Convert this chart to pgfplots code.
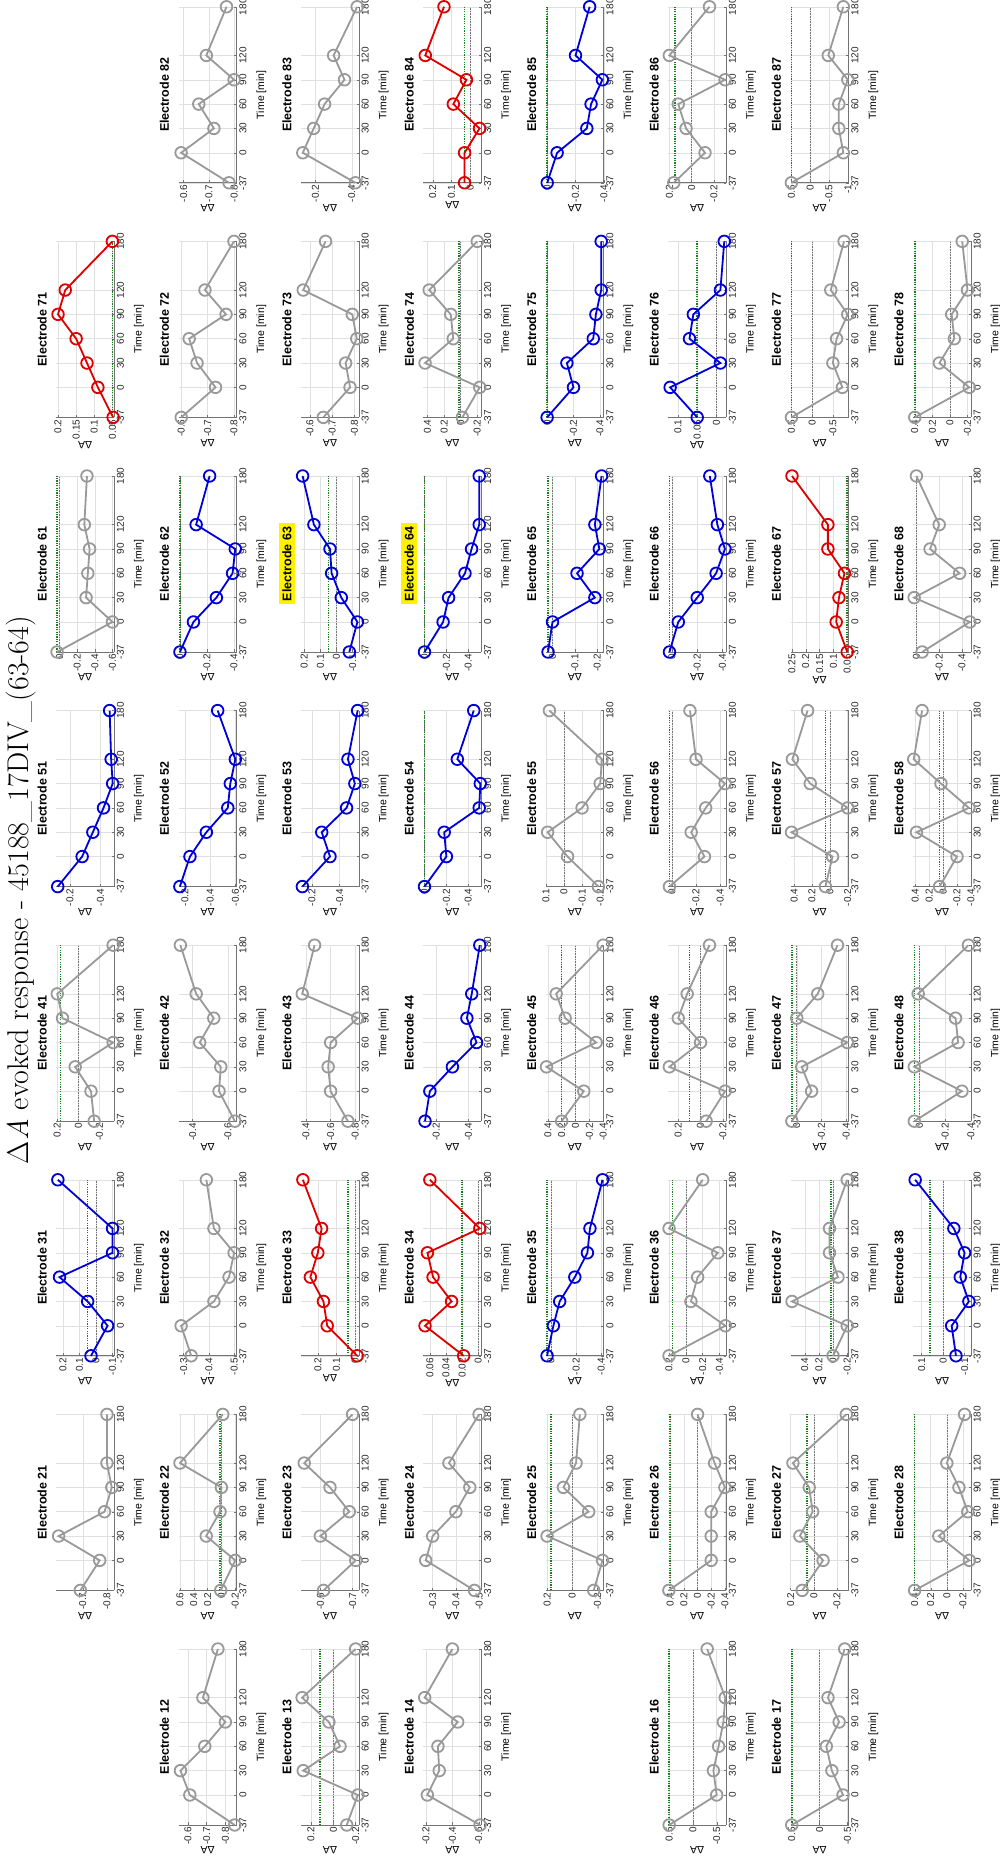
\documentclass[border=0pt]{standalone}
\usepackage{graphicx}
\usepackage{fontspec}
\setsansfont{Liberation Sans}
\usepackage{pgfplots}
\pgfplotsset{compat=1.18}

\definecolor{sgray}{rgb}{0.6,0.6,0.6}
\definecolor{sblue}{rgb}{0,0,0.85}
\definecolor{sred}{rgb}{0.87,0,0}
\definecolor{basegreen}{rgb}{0.1,0.5,0.1}
\definecolor{axisgray}{rgb}{0.45,0.45,0.45}
\definecolor{gridgray}{rgb}{0.88,0.88,0.88}

\pgfplotsset{
  panel/.style={
    scale only axis, width=176pt, height=58pt,
    xmin=-37, xmax=180, xtick={-37,0,30,60,90,120,180},
    axis x line*=bottom, axis y line*=left,
    axis line style={draw=axisgray, line width=0.7pt},
    every tick/.style={draw=axisgray},
    major tick length=2.5pt,
    grid=major, major grid style={draw=gridgray, line width=0.5pt},
    clip=false,
    /pgf/number format/assume math mode=true,
    /pgf/number format/fixed,
    scaled y ticks=false,
    tick label style={font=\sffamily\fontsize{10}{10}\selectfont, text=black!85},
    xticklabel style={inner sep=2.5pt},
    yticklabel style={inner sep=2pt},
    xlabel={Time [min]}, ylabel={ΔA},
    xlabel style={font=\sffamily\fontsize{10.5}{10.5}\selectfont, yshift=-4pt},
    ylabel style={font=\sffamily\fontsize{10.5}{10.5}\selectfont, yshift=-3pt},
    title style={font=\sffamily\bfseries\fontsize{12.5}{13}\selectfont},
  },
  cell/.style 2 args={at={({40pt+234.6pt*(#1-1)},{-114.2pt-122.4pt*(#2-1)})}, anchor=south west},
  ser/.style={draw=#1, line width=1.8pt, mark=o, mark size=5.8pt, mark options={line width=1.8pt, fill=none}},
  zeroline/.style={draw=black!55, line width=0.6pt, densely dotted},
  baseline/.style={draw=basegreen, line width=1.6pt, dash pattern=on 1.2pt off 1.2pt},
}

% tens digit, unit digit, colour, axis options, reference lines, data
\newcommand{\panel}[6]{%
  \begin{axis}[panel, cell={#1}{#2}, title={Electrode #1#2}, #4]
    #5
    \addplot[ser=#3] coordinates {#6};
  \end{axis}}
\newcommand{\zero}{\addplot[zeroline] coordinates {(-37,0) (180,0)};}
\newcommand{\base}[1]{\addplot[baseline] coordinates {(-37,#1) (180,#1)};}

\begin{document}
\rotatebox{90}{%
\begin{tikzpicture}
\path[use as bounding box] (0,0) rectangle (1865pt,-999pt);
\node[font=\fontsize{30}{30}\selectfont, inner sep=0pt] at (975pt,-21pt) {Δ\textit{A} evoked response - 45188\_17DIV\_(63-64)};

% ---------- row 8 ----------
\panel{8}{2}{sgray}{ymin=-0.81,ymax=-0.58,ytick={-0.8,-0.7,-0.6}}{}{(-37,-0.78) (0,-0.59) (30,-0.72) (60,-0.66) (90,-0.80) (120,-0.69) (180,-0.77)}
\panel{8}{3}{sgray}{ymin=-0.44,ymax=-0.12,ytick={-0.4,-0.2}}{}{(-37,-0.42) (0,-0.13) (30,-0.19) (60,-0.25) (90,-0.36) (120,-0.30) (180,-0.43)}
\panel{8}{4}{sred}{ymin=-0.06,ymax=0.25,ytick={0,0.1,0.2}}{\zero\base{0.03}}{(-37,0.03) (0,0.03) (30,-0.05) (60,0.09) (90,0.02) (120,0.24) (180,0.14)}
\panel{8}{5}{sblue}{ymin=-0.40,ymax=0.01,ytick={-0.4,-0.2,0}}{\zero\base{0}}{(-37,0) (0,-0.07) (30,-0.28) (60,-0.31) (90,-0.39) (120,-0.2) (180,-0.3)}
\panel{8}{6}{sgray}{ymin=-0.31,ymax=0.21,ytick={-0.2,0,0.2}}{\zero\base{0.15}}{(-37,0.16) (0,-0.12) (30,0.05) (60,0.12) (90,-0.3) (120,0.2) (180,-0.16)}
\panel{8}{7}{sgray}{ymin=-1.02,ymax=0.52,ytick={-1,-0.5,0,0.5}}{\zero\base{0.5}}{(-37,0.5) (0,-0.88) (30,-0.76) (60,-0.76) (90,-1.0) (120,-0.48) (180,-0.88)}

% ---------- row 7 ----------
\panel{7}{1}{sred}{ymin=0.045,ymax=0.205,ytick={0.05,0.1,0.15,0.2}}{\base{0.05}}{(-37,0.048) (0,0.09) (30,0.12) (60,0.15) (90,0.2) (120,0.18) (180,0.05)}
\panel{7}{2}{sgray}{ymin=-0.81,ymax=-0.59,ytick={-0.8,-0.7,-0.6}}{}{(-37,-0.60) (0,-0.73) (30,-0.66) (60,-0.63) (90,-0.77) (120,-0.69) (180,-0.80)}
\panel{7}{3}{sgray}{ymin=-0.82,ymax=-0.56,ytick={-0.8,-0.7,-0.6}}{}{(-37,-0.66) (0,-0.78) (30,-0.76) (60,-0.81) (90,-0.79) (120,-0.57) (180,-0.67)}
\panel{7}{4}{sgray}{ymin=-0.25,ymax=0.45,ytick={-0.2,0,0.2,0.4}}{\zero\base{0.02}}{(-37,-0.02) (0,-0.23) (30,0.43) (60,0.09) (90,0.12) (120,0.38) (180,-0.20)}
\panel{7}{5}{sblue}{ymin=-0.43,ymax=0.01,ytick={-0.4,-0.2,0}}{\zero\base{0}}{(-37,0) (0,-0.2) (30,-0.15) (60,-0.35) (90,-0.37) (120,-0.41) (180,-0.41)}
\panel{7}{6}{sblue}{ymin=-0.025,ymax=0.125,ytick={0,0.05,0.1}}{\zero\base{0.05}}{(-37,0.05) (0,0.12) (30,-0.01) (60,0.07) (90,0.06) (120,-0.01) (180,-0.02)}
\panel{7}{7}{sgray}{ymin=-0.88,ymax=0.52,ytick={-0.5,0,0.5}}{\zero\base{0.5}}{(-37,0.5) (0,-0.73) (30,-0.5) (60,-0.59) (90,-0.86) (120,-0.45) (180,-0.77)}
\panel{7}{8}{sgray}{ymin=-0.24,ymax=0.42,ytick={-0.2,0,0.2,0.4}}{\zero\base{0.4}}{(-37,0.4) (0,-0.22) (30,0.12) (60,-0.05) (90,-0.02) (120,-0.2) (180,-0.14)}

% ---------- row 6 ----------
\panel{6}{1}{sgray}{ymin=-0.62,ymax=0.04,ytick={-0.6,-0.4,-0.2,0}}{\zero\base{0.03}}{(-37,0.03) (0,-0.6) (30,-0.3) (60,-0.32) (90,-0.34) (120,-0.28) (180,-0.31)}
\panel{6}{2}{sblue}{ymin=-0.42,ymax=0.01,ytick={-0.4,-0.2,0}}{\zero\base{0}}{(-37,0) (0,-0.1) (30,-0.27) (60,-0.39) (90,-0.41) (120,-0.12) (180,-0.22)}
\panel{6}{3}{sblue}{ymin=-0.14,ymax=0.22,ytick={-0.1,0,0.1,0.2},title style={fill=yellow}}{\zero\base{0.05}}{(-37,-0.08) (0,-0.13) (30,-0.03) (60,0.03) (90,0.04) (120,0.14) (180,0.21)}
\panel{6}{4}{sblue}{ymin=-0.52,ymax=0.01,ytick={-0.4,-0.2,0},title style={fill=yellow}}{\zero\base{0}}{(-37,0) (0,-0.17) (30,-0.22) (60,-0.37) (90,-0.43) (120,-0.5) (180,-0.5)}
\panel{6}{5}{sblue}{ymin=-0.23,ymax=0.03,ytick={-0.2,-0.1,0}}{\zero\base{0.02}}{(-37,0.02) (0,0) (30,-0.19) (60,-0.11) (90,-0.21) (120,-0.19) (180,-0.22)}
\panel{6}{6}{sblue}{ymin=-0.43,ymax=0.03,ytick={-0.4,-0.2,0}}{\zero\base{0.02}}{(-37,0.02) (0,-0.05) (30,-0.2) (60,-0.35) (90,-0.42) (120,-0.36) (180,-0.3)}
\panel{6}{7}{sred}{ymin=0.045,ymax=0.255,ytick={0.05,0.1,0.15,0.2,0.25}}{\base{0.05}}{(-37,0.05) (0,0.09) (30,0.08) (60,0.06) (90,0.12) (120,0.12) (180,0.25)}
\panel{6}{8}{sgray}{ymin=-0.48,ymax=0.03,ytick={-0.4,-0.2,0}}{\zero}{(-37,-0.05) (0,-0.47) (30,0.02) (60,-0.38) (90,-0.12) (120,-0.2) (180,0)}

% ---------- row 5 ----------
\panel{5}{1}{sblue}{ymin=-0.49,ymax=-0.11,ytick={-0.4,-0.2}}{}{(-37,-0.12) (0,-0.28) (30,-0.35) (60,-0.42) (90,-0.48) (120,-0.47) (180,-0.46)}
\panel{5}{2}{sblue}{ymin=-0.61,ymax=-0.15,ytick={-0.6,-0.4,-0.2}}{}{(-37,-0.16) (0,-0.24) (30,-0.37) (60,-0.54) (90,-0.56) (120,-0.6) (180,-0.46)}
\panel{5}{3}{sblue}{ymin=-0.54,ymax=-0.12,ytick={-0.4,-0.2}}{}{(-37,-0.13) (0,-0.33) (30,-0.27) (60,-0.45) (90,-0.51) (120,-0.46) (180,-0.53)}
\panel{5}{4}{sblue}{ymin=-0.52,ymax=0.01,ytick={-0.4,-0.2,0}}{\zero\base{0}}{(-37,0) (0,-0.2) (30,-0.18) (60,-0.5) (90,-0.51) (120,-0.3) (180,-0.45)}
\panel{5}{5}{sgray}{ymin=-0.22,ymax=0.10,ytick={-0.2,-0.1,0,0.1}}{\zero}{(-37,-0.19) (0,-0.02) (30,0.09) (60,-0.1) (90,-0.2) (120,-0.21) (180,0.08)}
\panel{5}{6}{sgray}{ymin=-0.45,ymax=0.03,ytick={-0.4,-0.2,0}}{\zero\base{0.02}}{(-37,0.02) (0,-0.27) (30,-0.16) (60,-0.28) (90,-0.44) (120,-0.2) (180,-0.15)}
\panel{5}{7}{sgray}{ymin=-0.21,ymax=0.44,ytick={-0.2,0,0.2,0.4}}{\zero\base{0.05}}{(-37,0.05) (0,-0.03) (30,0.43) (60,-0.2) (90,0.22) (120,0.42) (180,0.25)}
\panel{5}{8}{sgray}{ymin=-0.40,ymax=0.43,ytick={-0.4,-0.2,0,0.2,0.4}}{\zero\base{0.05}}{(-37,0.05) (0,-0.2) (30,0.38) (60,-0.37) (90,0.03) (120,0.42) (180,0.3)}

% ---------- row 4 ----------
\panel{4}{1}{sgray}{ymin=-0.34,ymax=0.21,ytick={-0.2,0,0.2}}{\zero\base{0.17}}{(-37,-0.15) (0,-0.12) (30,0.03) (60,-0.33) (90,0.15) (120,0.2) (180,-0.33)}
\panel{4}{2}{sgray}{ymin=-0.65,ymax=-0.32,ytick={-0.6,-0.4}}{}{(-37,-0.64) (0,-0.55) (30,-0.56) (60,-0.44) (90,-0.52) (120,-0.42) (180,-0.33)}
\panel{4}{3}{sgray}{ymin=-0.83,ymax=-0.36,ytick={-0.8,-0.6,-0.4}}{}{(-37,-0.74) (0,-0.6) (30,-0.58) (60,-0.6) (90,-0.82) (120,-0.37) (180,-0.47)}
\panel{4}{4}{sblue}{ymin=-0.48,ymax=-0.12,ytick={-0.4,-0.2}}{}{(-37,-0.13) (0,-0.16) (30,-0.3) (60,-0.45) (90,-0.39) (120,-0.42) (180,-0.47)}
\panel{4}{5}{sgray}{ymin=-0.41,ymax=0.43,ytick={-0.4,-0.2,0,0.2,0.4}}{\zero\base{0.2}}{(-37,0.2) (0,-0.12) (30,0.42) (60,-0.3) (90,0.15) (120,0.28) (180,-0.4)}
\panel{4}{6}{sgray}{ymin=-0.23,ymax=0.29,ytick={-0.2,0,0.2}}{\zero\base{0.1}}{(-37,-0.05) (0,-0.22) (30,0.28) (60,0) (90,0.2) (120,0.12) (180,-0.08)}
\panel{4}{7}{sgray}{ymin=-0.42,ymax=0.05,ytick={-0.4,-0.2,0}}{\zero\base{0.04}}{(-37,0.04) (0,-0.12) (30,-0.04) (60,-0.41) (90,0) (120,-0.17) (180,-0.33)}
\panel{4}{8}{sgray}{ymin=-0.40,ymax=0.05,ytick={-0.4,-0.2,0}}{\zero\base{0.04}}{(-37,0.04) (0,-0.33) (30,0.04) (60,-0.3) (90,-0.28) (120,0.01) (180,-0.38)}

% ---------- row 3 ----------
\panel{3}{1}{sblue}{ymin=-0.11,ymax=0.24,ytick={-0.1,0,0.1,0.2}}{\zero\base{0.05}}{(-37,0.03) (0,-0.07) (30,0.05) (60,0.22) (90,-0.1) (120,-0.1) (180,0.23)}
\panel{3}{2}{sgray}{ymin=-0.51,ymax=-0.28,ytick={-0.5,-0.4,-0.3}}{}{(-37,-0.33) (0,-0.29) (30,-0.42) (60,-0.48) (90,-0.5) (120,-0.42) (180,-0.39)}
\panel{3}{3}{sred}{ymin=-0.02,ymax=0.29,ytick={0,0.1,0.2}}{\zero\base{0.04}}{(-37,-0.01) (0,0.15) (30,0.17) (60,0.24) (90,0.2) (120,0.18) (180,0.28)}
\panel{3}{4}{sred}{ymin=-0.004,ymax=0.068,ytick={0,0.02,0.04,0.06}}{\zero\base{0.02}}{(-37,0.018) (0,0.066) (30,0.033) (60,0.056) (90,0.063) (120,-0.002) (180,0.06)}
\panel{3}{5}{sblue}{ymin=-0.42,ymax=0.04,ytick={-0.4,-0.2,0}}{\zero\base{0.03}}{(-37,0.03) (0,-0.02) (30,-0.07) (60,-0.19) (90,-0.29) (120,-0.31) (180,-0.41)}
\panel{3}{6}{sgray}{ymin=-0.48,ymax=0.21,ytick={-0.4,-0.2,0,0.2}}{\zero\base{0.16}}{(-37,0.2) (0,-0.47) (30,-0.06) (60,-0.14) (90,-0.38) (120,0.2) (180,-0.2)}
\panel{3}{7}{sgray}{ymin=-0.22,ymax=0.6,ytick={-0.2,0,0.2,0.4}}{\zero\base{0.03}}{(-37,0) (0,-0.2) (30,0.58) (60,-0.07) (90,0.05) (120,0.05) (180,-0.2)}
\panel{3}{8}{sblue}{ymin=-0.13,ymax=0.14,ytick={-0.1,0,0.1}}{\zero\base{0.06}}{(-37,-0.06) (0,-0.04) (30,-0.12) (60,-0.08) (90,-0.1) (120,-0.05) (180,0.13)}

% ---------- row 2 ----------
\panel{2}{1}{sgray}{ymin=-0.83,ymax=-0.59,ytick={-0.8,-0.7}}{}{(-37,-0.69) (0,-0.77) (30,-0.6) (60,-0.79) (90,-0.82) (120,-0.8) (180,-0.8)}
\panel{2}{2}{sgray}{ymin=-0.22,ymax=0.62,ytick={-0.2,0,0.2,0.4,0.6}}{\zero\base{0.02}}{(-37,0.01) (0,-0.2) (30,0.22) (60,0.02) (90,0) (120,0.6) (180,-0.02)}
\panel{2}{3}{sgray}{ymin=-0.72,ymax=-0.54,ytick={-0.7,-0.6}}{}{(-37,-0.61) (0,-0.71) (30,-0.6) (60,-0.69) (90,-0.63) (120,-0.55) (180,-0.7)}
\panel{2}{4}{sgray}{ymin=-0.51,ymax=-0.26,ytick={-0.5,-0.4,-0.3}}{}{(-37,-0.48) (0,-0.27) (30,-0.3) (60,-0.4) (90,-0.46) (120,-0.37) (180,-0.5)}
\panel{2}{5}{sgray}{ymin=-0.25,ymax=0.21,ytick={-0.2,0,0.2}}{\zero\base{0.17}}{(-37,-0.17) (0,-0.24) (30,0.2) (60,-0.13) (90,0.07) (120,-0.03) (180,-0.06)}
\panel{2}{6}{sgray}{ymin=-0.42,ymax=0.43,ytick={-0.4,-0.2,0,0.2,0.4}}{\zero\base{0.4}}{(-37,0.42) (0,-0.2) (30,-0.2) (60,-0.2) (90,-0.4) (120,-0.25) (180,0)}
\panel{2}{7}{sgray}{ymin=-0.3,ymax=0.2,ytick={-0.2,0,0.2}}{\zero\base{0.06}}{(-37,0.1) (0,-0.08) (30,0.12) (60,0.01) (90,0.04) (120,0.18) (180,-0.28)}
\panel{2}{8}{sgray}{ymin=-0.3,ymax=0.42,ytick={-0.2,0,0.2,0.4}}{\zero\base{0.4}}{(-37,0.4) (0,-0.28) (30,0.1) (60,-0.26) (90,-0.15) (120,0) (180,-0.22)}

% ---------- row 1 ----------
\panel{1}{2}{sgray}{ymin=-0.86,ymax=-0.55,ytick={-0.8,-0.7,-0.6}}{}{(-37,-0.85) (0,-0.61) (30,-0.56) (60,-0.69) (90,-0.8) (120,-0.68) (180,-0.76)}
\panel{1}{3}{sgray}{ymin=-0.23,ymax=0.29,ytick={-0.2,0,0.2}}{\zero\base{0.12}}{(-37,-0.12) (0,-0.22) (30,0.27) (60,-0.06) (90,0.04) (120,0.28) (180,-0.2)}
\panel{1}{4}{sgray}{ymin=-0.62,ymax=-0.18,ytick={-0.6,-0.4,-0.2}}{}{(-37,-0.61) (0,-0.21) (30,-0.3) (60,-0.29) (90,-0.44) (120,-0.19) (180,-0.4)}
\panel{1}{6}{sgray}{ymin=-0.7,ymax=0.52,ytick={-0.5,0,0.5}}{\zero\base{0.5}}{(-37,0.5) (0,-0.5) (30,-0.43) (60,-0.54) (90,-0.64) (120,-0.68) (180,-0.3)}
\panel{1}{7}{sgray}{ymin=-0.52,ymax=0.52,ytick={-0.5,0,0.5}}{\zero\base{0.5}}{(-37,0.5) (0,-0.42) (30,-0.22) (60,-0.12) (90,-0.35) (120,-0.15) (180,-0.45)}
\end{tikzpicture}}
\end{document}
